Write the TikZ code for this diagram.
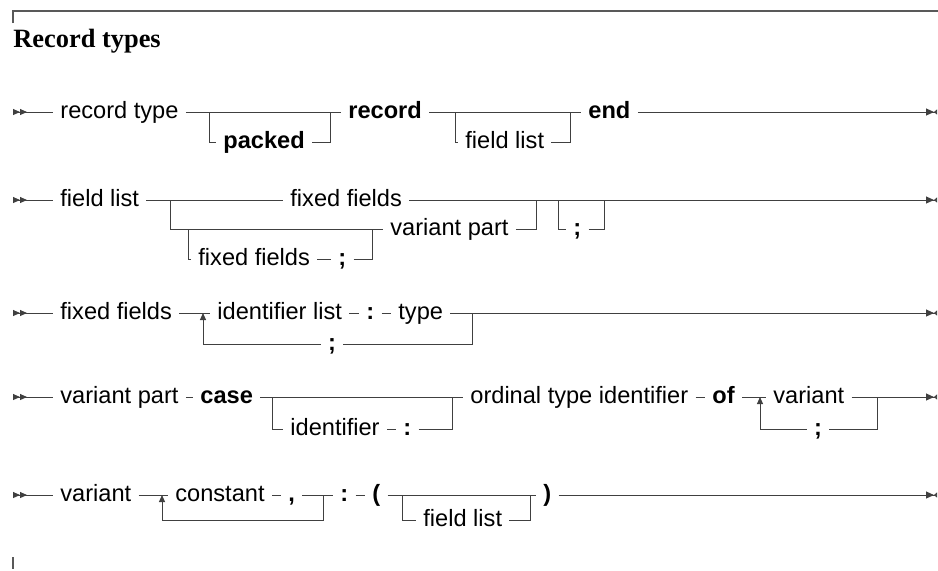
\documentclass[tikz,border=0pt]{standalone}
\usepackage{fontspec}
\setmainfont{Liberation Serif}
\setsansfont{Liberation Sans}
\usetikzlibrary{arrows.meta}

\begin{document}
\sffamily\fontsize{11.8}{14}\selectfont
\begin{tikzpicture}[x=0.5pt,y=-0.5pt,
    rail/.style={draw=black!75,line width=0.5pt},
    word/.style={anchor=mid west,inner xsep=3.5pt,inner ysep=0pt,font=\sffamily\fontsize{11.8}{14}\selectfont},
    kw/.style={word,font=\sffamily\bfseries\fontsize{11.8}{14}\selectfont},
    railstart/.style={arrows={{Triangle[reversed,length=3.5pt,width=3pt]Triangle[reversed,length=3.5pt,width=3pt]}-}},
    railend/.style={arrows={-{Triangle[length=4pt,width=3.5pt]Triangle[reversed,length=1.5pt,width=2.5pt]}}},
    back/.style={arrows={-{Triangle[length=3.5pt,width=3pt]}}}]
                \useasboundingbox (0,0) rectangle (938,570);
                \draw[black!65,line width=0.6pt] (13,23) -- (13,11) -- (938,11);
                \draw[black!65,line width=0.6pt] (13,557) -- (13,569);
                \node[anchor=base west,inner sep=0pt,font=\rmfamily\bfseries\fontsize{13.2}{16}\selectfont] (title) at (13,47) {Record types};

                \coordinate (s1) at (13,112);
                \node[word] (rtype) at (53,112) {record type};
                \coordinate (j1a) at (209,112);
                \node[kw] (packed) at (216,142) {packed};
                \coordinate (j1b) at (330,112);
                \node[kw] (record) at (341,112) {record};
                \coordinate (j1c) at (455,112);
                \node[word] (flista) at (458,142) {field list};
                \coordinate (j1d) at (570,112);
                \node[kw] (endkw) at (581,112) {end};
                \coordinate (e1) at (937,112);
                \draw[rail,railstart] (s1) -- (rtype.mid west);
                \draw[rail] (rtype.mid east) -- (record.mid west);
                \draw[rail] (record.mid east) -- (endkw.mid west);
                \draw[rail,railend] (endkw.mid east) -- (e1);
                \draw[rail] (j1a) |- (packed.mid west);
                \draw[rail] (packed.mid east) -| (j1b);
                \draw[rail] (j1c) |- (flista.mid west);
                \draw[rail] (flista.mid east) -| (j1d);

                \coordinate (s2) at (13,200);
                \node[word] (flist) at (53,200) {field list};
                \coordinate (j2a) at (170,200);
                \node[word] (ffa) at (283,200) {fixed fields};
                \coordinate (j2c) at (188,229);
                \node[word] (ffb) at (191,259) {fixed fields};
                \node[kw] (semia) at (331,259) {;};
                \coordinate (j2d) at (372,229);
                \node[word] (vparta) at (383,229) {variant part};
                \coordinate (j2b) at (536,200);
                \coordinate (j2e) at (558,200);
                \node[kw] (semib) at (566,229) {;};
                \coordinate (j2f) at (604,200);
                \coordinate (e2) at (937,200);
                \draw[rail,railstart] (s2) -- (flist.mid west);
                \draw[rail] (flist.mid east) -- (ffa.mid west);
                \draw[rail,railend] (ffa.mid east) -- (e2);
                \draw[rail] (j2a) |- (vparta.mid west);
                \draw[rail] (vparta.mid east) -| (j2b);
                \draw[rail] (j2c) |- (ffb.mid west);
                \draw[rail] (ffb.mid east) -- (semia.mid west);
                \draw[rail] (semia.mid east) -| (j2d);
                \draw[rail] (j2e) |- (semib.mid west);
                \draw[rail] (semib.mid east) -| (j2f);

                \coordinate (s3) at (13,313);
                \node[word] (ffc) at (53,313) {fixed fields};
                \coordinate (j3a) at (203,313);
                \node[word] (idlist) at (210,313) {identifier list};
                \node[kw] (colona) at (359,313) {:};
                \node[word] (type) at (391,313) {type};
                \coordinate (j3b) at (472,313);
                \node[kw,anchor=mid] (semic) at (332,344) {;};
                \coordinate (e3) at (937,313);
                \draw[rail,railstart] (s3) -- (ffc.mid west);
                \draw[rail] (ffc.mid east) -- (idlist.mid west);
                \draw[rail] (idlist.mid east) -- (colona.mid west);
                \draw[rail] (colona.mid east) -- (type.mid west);
                \draw[rail,railend] (type.mid east) -- (e3);
                \draw[rail] (j3b) |- (semic.mid east);
                \draw[rail,back] (semic.mid west) -| (j3a);

                \coordinate (s4) at (13,397);
                \node[word] (vpartb) at (53,397) {variant part};
                \node[kw] (case) at (193,397) {case};
                \coordinate (j4a) at (272,397);
                \node[word] (ident) at (283,429) {identifier};
                \node[kw] (colonb) at (396,429) {:};
                \coordinate (j4b) at (452,397);
                \node[word] (ordinal) at (463,397) {ordinal type identifier};
                \node[kw] (of) at (705,397) {of};
                \coordinate (j4c) at (760,397);
                \node[word] (varianta) at (766,397) {variant};
                \coordinate (j4d) at (877,397);
                \node[kw,anchor=mid] (semid) at (818,429) {;};
                \coordinate (e4) at (937,397);
                \draw[rail,railstart] (s4) -- (vpartb.mid west);
                \draw[rail] (vpartb.mid east) -- (case.mid west);
                \draw[rail] (case.mid east) -- (ordinal.mid west);
                \draw[rail] (ordinal.mid east) -- (of.mid west);
                \draw[rail] (of.mid east) -- (varianta.mid west);
                \draw[rail,railend] (varianta.mid east) -- (e4);
                \draw[rail] (j4a) |- (ident.mid west);
                \draw[rail] (ident.mid east) -- (colonb.mid west);
                \draw[rail] (colonb.mid east) -| (j4b);
                \draw[rail] (j4d) |- (semid.mid east);
                \draw[rail,back] (semid.mid west) -| (j4c);

                \coordinate (s5) at (13,495);
                \node[word] (variantb) at (53,495) {variant};
                \coordinate (j5a) at (162,495);
                \node[word] (const) at (168,495) {constant};
                \node[kw] (comma) at (281,495) {,};
                \coordinate (j5b) at (323,495);
                \node[kw] (colonc) at (333,495) {:};
                \node[kw] (lpar) at (365,495) {(};
                \coordinate (j5c) at (402,495);
                \node[word] (flistb) at (416,520) {field list};
                \coordinate (j5d) at (530,495);
                \node[kw] (rpar) at (536,495) {)};
                \coordinate (e5) at (937,495);
                \draw[rail,railstart] (s5) -- (variantb.mid west);
                \draw[rail] (variantb.mid east) -- (const.mid west);
                \draw[rail] (const.mid east) -- (comma.mid west);
                \draw[rail] (comma.mid east) -- (colonc.mid west);
                \draw[rail] (colonc.mid east) -- (lpar.mid west);
                \draw[rail] (lpar.mid east) -- (rpar.mid west);
                \draw[rail,railend] (rpar.mid east) -- (e5);
                \draw[rail,back] (j5b) -- ++(0,25) -| (j5a);
                \draw[rail] (j5c) |- (flistb.mid west);
                \draw[rail] (flistb.mid east) -| (j5d);
\end{tikzpicture}
\end{document}
